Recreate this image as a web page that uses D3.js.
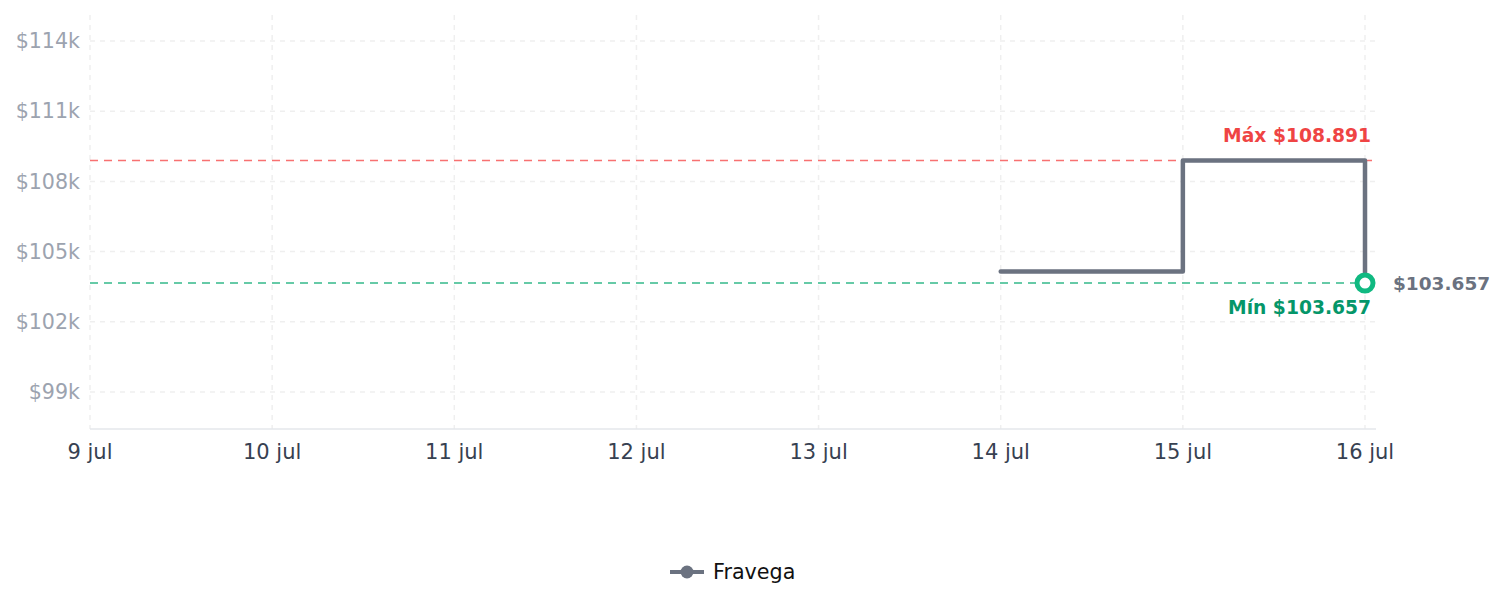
<!DOCTYPE html>
<html>
<head>
<meta charset="utf-8">
<script src="https://cdn.jsdelivr.net/npm/d3@7"></script>
<style>
  body { margin: 0; background: #fff; }
  svg { font-family: "DejaVu Sans", sans-serif; display: block; }
</style>
</head>
<body>
<svg id="chart"></svg>
<script>
// data
const dates = ["2024-07-14", "2024-07-15", "2024-07-16"];
const prices = [104150, 108891, 103657];
const seriesName = "Fravega";
const yTicks = [99000, 102000, 105000, 108000, 111000, 114000];
const xTicks = ["2024-07-09", "2024-07-10", "2024-07-11", "2024-07-12", "2024-07-13", "2024-07-14", "2024-07-15", "2024-07-16"];
const monthNames = ["ene", "feb", "mar", "abr", "may", "jun", "jul", "ago", "sep", "oct", "nov", "dic"];

const width = 1505, height = 607;
const plotLeft = 90, plotRight = 1376, plotTop = 15, plotBottom = 429;

const parse = d3.utcParse("%Y-%m-%d");
const data = dates.map((d, i) => ({ date: parse(d), value: prices[i] }));
const maxV = d3.max(prices), minV = d3.min(prices);
const last = data[data.length - 1];

const svg = d3.select("#chart").attr("width", width).attr("height", height);

const x = d3.scaleUtc()
    .domain([parse(xTicks[0]), parse(xTicks[xTicks.length - 1])])
    .range([plotLeft, 1365]);

const y = d3.scaleLinear()
    .domain([97420, 115110])
    .range([plotBottom, plotTop]);

const fmt = d3.formatLocale({ decimal: ",", thousands: ".", grouping: [3], currency: ["$", ""] });
const money = v => "$" + fmt.format(",")(v);

// grid
svg.append("g")
  .selectAll("line")
  .data(yTicks)
  .join("line")
    .attr("x1", plotLeft).attr("x2", plotRight)
    .attr("y1", d => y(d)).attr("y2", d => y(d))
    .attr("stroke", "#efefef")
    .attr("stroke-width", 1.5)
    .attr("stroke-dasharray", "5,5");

svg.append("g")
  .selectAll("line")
  .data(xTicks.map(parse))
  .join("line")
    .attr("x1", d => x(d)).attr("x2", d => x(d))
    .attr("y1", plotTop).attr("y2", plotBottom)
    .attr("stroke", "#efefef")
    .attr("stroke-width", 1.5)
    .attr("stroke-dasharray", "5,5");

// y labels
svg.append("g")
  .selectAll("text")
  .data(yTicks)
  .join("text")
    .attr("x", 80)
    .attr("y", d => y(d))
    .attr("dy", "0.35em")
    .attr("text-anchor", "end")
    .attr("fill", "#9ca3af")
    .style("font-size", "20.6px")
    .text(d => "$" + d / 1000 + "k");

// x axis
svg.append("line")
  .attr("x1", plotLeft).attr("x2", plotRight)
  .attr("y1", plotBottom).attr("y2", plotBottom)
  .attr("stroke", "#e5e7eb")
  .attr("stroke-width", 1.5);

svg.append("g")
  .selectAll("text")
  .data(xTicks.map(parse))
  .join("text")
    .attr("x", d => x(d))
    .attr("y", 459)
    .attr("text-anchor", "middle")
    .attr("fill", "#374151")
    .style("font-size", "21px")
    .text(d => d.getUTCDate() + " " + monthNames[d.getUTCMonth()]);

// max / min reference lines
svg.append("line")
  .attr("x1", plotLeft).attr("x2", plotRight)
  .attr("y1", y(maxV)).attr("y2", y(maxV))
  .attr("stroke", "#f87171")
  .attr("stroke-width", 1.5)
  .attr("stroke-dasharray", "8,6");

svg.append("line")
  .attr("x1", plotLeft).attr("x2", plotRight)
  .attr("y1", y(minV)).attr("y2", y(minV))
  .attr("stroke", "#34b98a")
  .attr("stroke-width", 1.5)
  .attr("stroke-dasharray", "8,6");

svg.append("text")
  .attr("x", 1371).attr("y", y(maxV) - 19)
  .attr("text-anchor", "end")
  .attr("fill", "#ef4444")
  .style("font-size", "18.7px").style("font-weight", "bold")
  .text("Máx " + money(maxV));

svg.append("text")
  .attr("x", 1371).attr("y", y(minV) + 31)
  .attr("text-anchor", "end")
  .attr("fill", "#059669")
  .style("font-size", "18.7px").style("font-weight", "bold")
  .text("Mín " + money(minV));

// price line
const line = d3.line()
    .x(d => x(d.date))
    .y(d => y(d.value))
    .curve(d3.curveStepAfter);

svg.append("path")
  .datum(data)
  .attr("fill", "none")
  .attr("stroke", "#6b7280")
  .attr("stroke-width", 4.5)
  .attr("stroke-linejoin", "round")
  .attr("stroke-linecap", "round")
  .attr("d", line);

// last point marker
svg.append("circle")
  .attr("cx", x(last.date)).attr("cy", y(last.value))
  .attr("r", 8)
  .attr("fill", "#fff")
  .attr("stroke", "#10b981")
  .attr("stroke-width", 5);

svg.append("text")
  .attr("x", 1393).attr("y", y(last.value))
  .attr("dy", "0.35em")
  .attr("fill", "#6b7280")
  .style("font-size", "18.5px").style("font-weight", "bold")
  .text(money(last.value));

// legend
const lg = svg.append("g").attr("transform", "translate(670,572)");
lg.append("line")
  .attr("x1", 0).attr("x2", 34)
  .attr("stroke", "#6b7280").attr("stroke-width", 4);
lg.append("circle")
  .attr("cx", 17).attr("r", 6.5)
  .attr("fill", "#6b7280");
lg.append("text")
  .attr("x", 43).attr("dy", "0.35em")
  .attr("fill", "#111")
  .style("font-size", "20.7px")
  .text(seriesName);
</script>
</body>
</html>
